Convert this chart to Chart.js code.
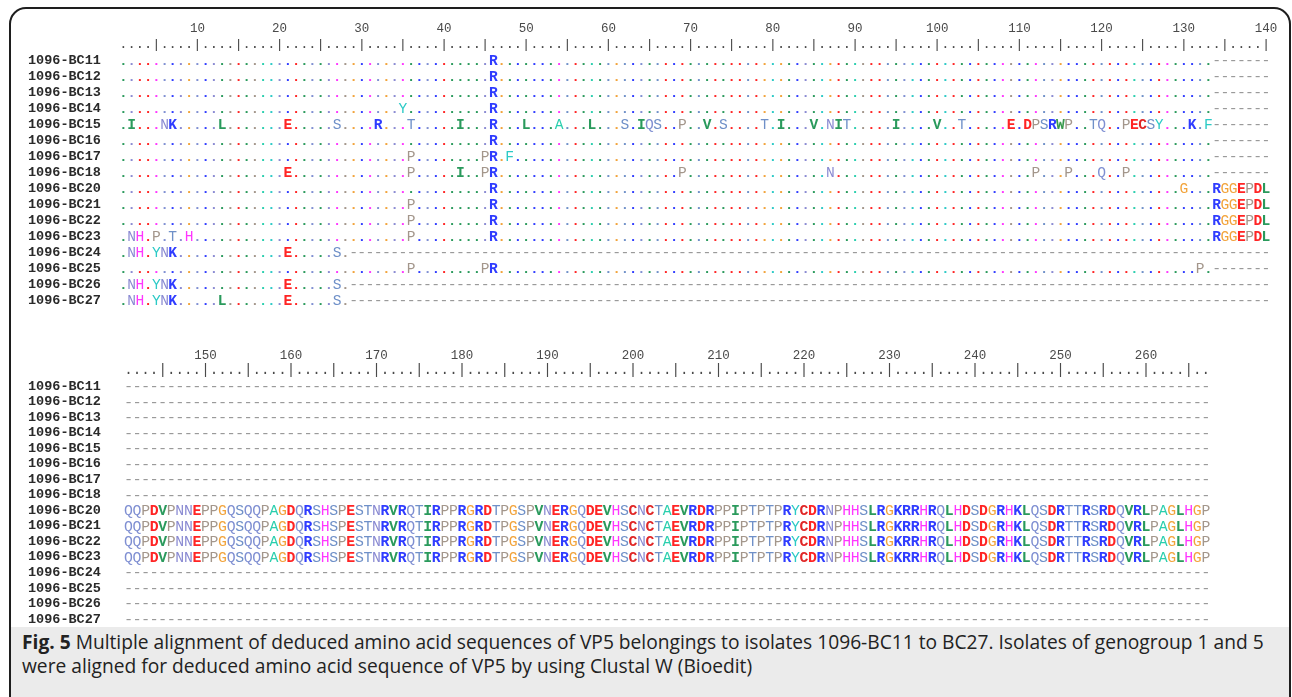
<!DOCTYPE html>
<html><head><meta charset="utf-8">
<script src="https://cdn.jsdelivr.net/npm/chart.js@4.4.1/dist/chart.umd.min.js"></script>
<style>
html,body{margin:0;padding:0;background:#fff;width:1292px;height:697px;overflow:hidden;}
#frame{position:absolute;left:9px;top:7px;width:1282px;height:760px;border:2px solid #1e1e1e;border-radius:17px;box-sizing:border-box;}
.pane{position:absolute;left:0;width:1292px;}
#topPane{top:0;height:320px;}
#botPane{top:325px;height:310px;}
#cap{position:absolute;left:11px;top:627px;width:1278px;height:70px;background:#ebebeb;color:#222;
 font-family:"Open Sans","Noto Sans",sans-serif;font-size:19.2px;line-height:24px;padding:3px 0 0 11px;box-sizing:border-box;white-space:nowrap;}
#cap b{font-weight:700;}
</style></head>
<body>
<div id="frame"></div>
<div class="pane" id="topPane"><canvas id="cTop"></canvas></div>
<div class="pane" id="botPane"><canvas id="cBot"></canvas></div>
<div id="cap"><b>Fig. 5</b> Multiple alignment of deduced amino acid sequences of VP5 belongings to isolates 1096-BC11 to BC27. Isolates of genogroup 1 and 5<br>were aligned for deduced amino acid sequence of VP5 by using Clustal W (Bioedit)</div>
<script>
// ---------- DATA ----------
const isolates = ["1096-BC11","1096-BC12","1096-BC13","1096-BC14","1096-BC15","1096-BC16","1096-BC17","1096-BC18",
  "1096-BC20","1096-BC21","1096-BC22","1096-BC23","1096-BC24","1096-BC25","1096-BC26","1096-BC27"];

// hidden reference residues (colour of the identity dots), positions 1-133
const refTop = "VNDEHQKNGQ" + "RNLPEIPAYN" + "KDLQVNHPGR" + "HQGNHLRQKE" + "LVILNQGLRV" +
               "KRIHSDLAVT" + "GSRQLTERDI" + "SVELDETEGF" + "GLRNVYGELA" + "PDESVQYRIE" +
               "FDLKEVRHPR" + "LHTNGRKIDS" + "ERDASKEHVR" + "KTL";

// variant residues per isolate: [position, residues]
const varsTop = [
  [[46,"R"]],
  [[46,"R"]],
  [[46,"R"]],
  [[35,"Y"],[46,"R"]],
  [[2,"I"],[6,"NK"],[13,"L"],[21,"E"],[27,"S"],[32,"R"],[36,"T"],[42,"I"],[46,"R"],[50,"L"],[54,"A"],[58,"L"],
   [62,"S"],[64,"IQS"],[69,"P"],[72,"V"],[74,"S"],[79,"T"],[81,"I"],[85,"V"],[87,"NIT"],[95,"I"],[100,"V"],[103,"T"],
   [109,"E"],[111,"DPSRWP"],[119,"TQ"],[123,"PECSY"],[131,"K"],[133,"F"]],
  [[46,"R"]],
  [[36,"P"],[45,"PR"],[48,"F"]],
  [[21,"E"],[36,"P"],[42,"I"],[45,"PR"],[69,"P"],[87,"N"],[112,"P"],[116,"P"],[120,"Q"],[123,"P"]],
  [[46,"R"],[130,"G"],[134,"RGGEPDL"]],
  [[36,"P"],[46,"R"],[134,"RGGEPDL"]],
  [[36,"P"],[46,"R"],[134,"RGGEPDL"]],
  [[2,"NH"],[5,"P"],[7,"T"],[9,"H"],[36,"P"],[46,"R"],[134,"RGGEPDL"]],
  [[2,"NH"],[5,"YNK"],[21,"E"],[27,"S"]],
  [[36,"P"],[45,"PR"],[132,"P"]],
  [[2,"NH"],[5,"YNK"],[21,"E"],[27,"S"]],
  [[2,"NH"],[5,"YNK"],[13,"L"],[21,"E"],[27,"S"]]
];
// first gap position in the first block (141 = no gap)
const gapTop = [134,134,134,134,134,134,134,134,141,141,141,141,29,134,29,29];

// second block, positions 141-267
const seqBottom = "QQPDVPNNEPPGQSQQPAGDQRSHSPESTNRVRQTIRPPRGRDTPGSPVNERGQDEVHSCNCTAEVRDRPPIPTPTPRYCDRNPHHSLRGKRRHRQLHDSDGRHKLQSDRTTRSRDQVRLPAGLHGP";
const hasBottom = [false,false,false,false,false,false,false,false,true,true,true,true,false,false,false,false];

const ticksTop = [10,20,30,40,50,60,70,80,90,100,110,120,130,140];
const ticksBottom = [150,160,170,180,190,200,210,220,230,240,250,260];

// ---------- STYLE ----------
const COL = {R:"#2f3cff",K:"#2f3cff",D:"#ff2424",E:"#ff2424",C:"#e02626",G:"#f2a33a",P:"#a3968b",
  L:"#2a9a5c",I:"#2a9a5c",V:"#2a9a5c",M:"#2a9a5c",W:"#3a9a4e",F:"#2ccac6",Y:"#2ccac6",A:"#2acfae",
  H:"#ff36ff",N:"#8a8ad2",Q:"#7f8fd2",S:"#6f90c8",T:"#6f90c8"};
const BOLD = "RKDEILVCWM";

function buildRows(start, end, rowFn){
  const ds = [];
  isolates.forEach((name, r) => {
    const pts = [];
    for (let p = start; p <= end; p++){
      const o = rowFn(r, p);
      if (o) pts.push({x:p, y:r, ch:o.ch, ref:o.ref});
    }
    ds.push({label:name, data:pts, pointRadius:0, pointHoverRadius:0, showLine:false});
  });
  return ds;
}
function topRow(r, p){
  if (p >= gapTop[r]) return {ch:"-"};
  for (const [pos, s] of varsTop[r]){
    if (p >= pos && p < pos + s.length) return {ch:s[p-pos]};
  }
  return {ch:".", ref:refTop[p-1]};
}
function botRow(r, p){
  if (!hasBottom[r]) return {ch:"-"};
  return {ch:seqBottom[p-141]};
}
function rulerDs(start, end, yv){
  const pts = [];
  for (let p = start; p <= end; p++) pts.push({x:p, y:yv, ch:(p%5===0?"|":"."), ruler:true});
  return {label:"ruler", data:pts, pointRadius:0, pointHoverRadius:0, showLine:false};
}

const seqPlugin = {
  id:"seq",
  afterDatasetsDraw(chart){
    const o = chart.options.plugins.seq;
    const ctx = chart.ctx;
    ctx.save();
    ctx.textAlign = "center"; ctx.textBaseline = "alphabetic";
    chart.data.datasets.forEach((ds, di) => {
      const meta = chart.getDatasetMeta(di);
      meta.data.forEach((el, i) => {
        const d = ds.data[i];
        let color = "#555", weight = "normal", size = o.size;
        if (d.ruler) { color = "#4a4a4a"; }
        else if (d.ch === ".") { color = COL[d.ref] || "#888"; weight = "bold"; }
        else if (d.ch === "-") { color = "#9a9a9a"; size = o.size * 1.08; }
        else { color = COL[d.ch] || "#444"; size = o.gsize; if (BOLD.includes(d.ch)) weight = "bold"; }
        ctx.font = weight + " " + size + "px 'Liberation Mono', monospace";
        ctx.fillStyle = color;
        ctx.fillText(d.ch, el.x, el.y + o.size * 0.34);
      });
    });
    ctx.restore();
  }
};

function makeChart(id, cfg){
  return new Chart(document.getElementById(id), {
    type:"scatter",
    data:{datasets:cfg.datasets},
    plugins:[seqPlugin],
    options:{
      responsive:true, maintainAspectRatio:false, animation:false, devicePixelRatio:1,
      events:[],
      layout:{padding:{left:28, right:cfg.padRight, top:cfg.padTop, bottom:cfg.padBottom}},
      plugins:{legend:{display:false}, tooltip:{enabled:false}, seq:{size:cfg.size, gsize:cfg.gsize}},
      scales:{
        x:{type:"linear", position:"top", min:cfg.xmin, max:cfg.xmax,
           grid:{display:false, drawTicks:false}, border:{display:false},
           afterBuildTicks:s => { s.ticks = cfg.ticks.map(v => ({value:v})); },
           afterFit:s => { s.height = 20; },
           ticks:{autoSkip:false, maxRotation:0, padding:0, color:"#4a4a4a",
                  font:{family:"'Liberation Mono', monospace", size:12.5, lineHeight:1}, callback:v => String(v)}},
        y:{type:"linear", reverse:true, min:-1.6, max:15.5,
           grid:{display:false, drawTicks:false}, border:{display:false},
           afterBuildTicks:s => { s.ticks = isolates.map((n,i) => ({value:i})); },
           afterFit:s => { s.width = cfg.yWidth; },
           ticks:{autoSkip:false, crossAlign:"far", padding:0, color:"#2a2a2a",
                  font:{family:"'Liberation Mono', monospace", size:13.5, weight:"bold"},
                  callback:v => isolates[v] ?? ""}}
      }
    }
  });
}

// top block: positions 1-140
makeChart("cTop", {
  datasets:[rulerDs(1,140,-1.09), ...buildRows(1,140,topRow)],
  xmin:0.5, xmax:140.5, ticks:ticksTop, size:13.7, gsize:14.6,
  yWidth:91.3, padRight:21.9, padTop:15.1, padBottom:11.3
});
// bottom block: positions 141-267
makeChart("cBot", {
  datasets:[rulerDs(141,267,-1.1), ...buildRows(141,267,botRow)],
  xmin:140.5, xmax:267.5, ticks:ticksBottom, size:14.2, gsize:14.8,
  yWidth:96.2, padRight:81.9, padTop:16.5, padBottom:6.7
});
</script>
</body></html>
